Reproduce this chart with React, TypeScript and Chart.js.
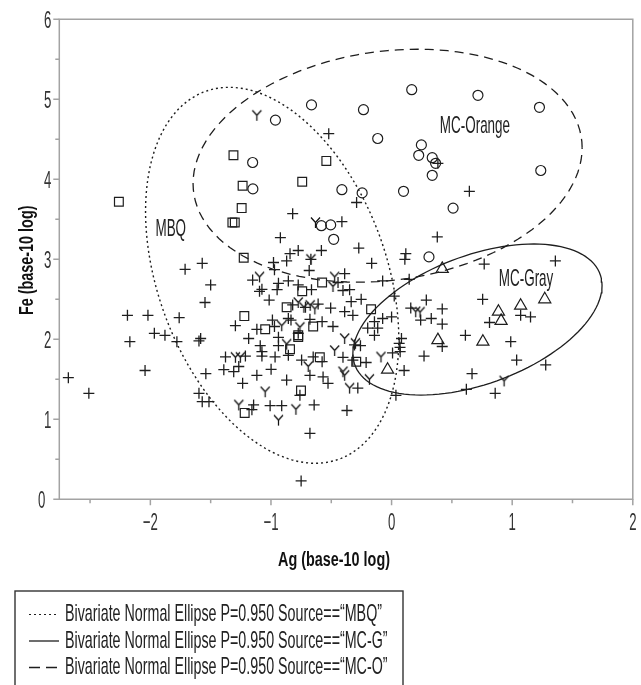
import { useEffect, useRef } from 'react';
import { Chart, registerables } from 'chart.js';

Chart.register(...registerables);

// ---------- axes ----------
const X_MIN = -2.755;
const X_MAX = 2;
const Y_MIN = 0;
const Y_MAX = 6;
const xTickValues = [-2, -1, 0, 1, 2];
const xTickLabels = ['−2', '−1', '0', '1', '2'];
const xMinorValues = [-2.5, -1.5, -0.5, 0.5, 1.5];
const yTickValues = [0, 1, 2, 3, 4, 5, 6];
const yTickLabels = ['0', '1', '2', '3', '4', '5', '6'];
const yMinorValues = [0.5, 1.5, 2.5, 3.5, 4.5, 5.5];
const xTitle = 'Ag (base-10 log)';
const yTitle = 'Fe (base-10 log)';

// ---------- markers ----------
const squarePoints: [number, number][] = [
  [-2.261, 3.72], [-1.311, 4.3], [-0.541, 4.23], [-1.235, 3.92], [-0.741, 3.97], [-1.243, 3.64],
  [-1.32, 3.46], [-1.3, 3.46], [-1.226, 3.02], [-0.576, 2.71], [-0.741, 2.6], [-0.87, 2.4],
  [-0.17, 2.375], [-1.221, 2.29], [-1.048, 2.125], [-0.65, 2.16], [-0.774, 2.05], [-0.774, 2.03],
  [-0.842, 1.875], [-0.595, 1.775], [-0.293, 1.72], [-0.751, 1.36], [-1.218, 1.08],
];

const circlePoints: [number, number][] = [
  [-0.963, 4.74], [-0.664, 4.93], [-0.233, 4.87], [0.167, 5.12], [0.716, 5.05], [1.226, 4.9],
  [-0.115, 4.51], [0.247, 4.43], [0.225, 4.3], [0.337, 4.27], [0.365, 4.2], [0.337, 4.05],
  [1.237, 4.11], [-1.152, 4.21], [-1.15, 3.88], [-0.412, 3.87], [-0.244, 3.83], [0.099, 3.85],
  [0.51, 3.64], [-0.582, 3.42], [-0.505, 3.43], [-0.48, 3.25], [0.31, 3.03],
];

const trianglePoints: [number, number][] = [
  [0.42, 2.88], [1.27, 2.5], [1.07, 2.42], [0.886, 2.345], [0.908, 2.23], [0.384, 1.99],
  [0.757, 1.97], [-0.033, 1.62],
];

const yMarkPoints: [number, number][] = [
  [-1.117, 4.8], [-0.631, 3.46], [-0.669, 3.0], [-1.095, 2.78], [-0.472, 2.78], [-0.486, 2.66],
  [-0.774, 2.46], [-0.727, 2.4], [-0.675, 2.425], [-0.636, 2.38], [-0.911, 2.17], [-0.76, 2.15],
  [-0.389, 2.01], [-0.3, 1.95], [-0.87, 1.94], [-1.295, 1.775], [-1.254, 1.775], [-0.472, 1.86],
  [-0.088, 1.78], [-0.691, 1.66], [-0.403, 1.595], [-0.389, 1.55], [-0.348, 1.39], [-0.184, 1.5],
  [-1.048, 1.345], [-1.267, 1.18], [-0.793, 1.125], [-0.938, 0.99], [0.236, 2.34], [0.2, 2.345],
  [0.933, 1.48],
];

const plusPoints: [number, number][] = [
  [-0.521, 4.57], [-0.29, 3.71], [-0.82, 3.57], [-0.412, 3.47], [-0.922, 3.27], [0.384, 4.2],
  [0.645, 3.85], [0.379, 3.28],
  [0.768, 2.94], [1.358, 2.98], [0.288, 2.49], [0.755, 2.5], [0.42, 2.38], [0.241, 2.24],
  [0.329, 2.26], [0.42, 2.19], [1.07, 2.3], [1.152, 2.28], [0.812, 2.21], [0.42, 1.91],
  [0.612, 2.05], [0.988, 1.97], [0.269, 1.79], [1.037, 1.74], [1.278, 1.68], [0.667, 1.57],
  [0.62, 1.375], [0.859, 1.325],
  [-0.272, 3.14], [0.118, 3.07], [0.11, 3.0], [-0.774, 3.11], [-0.842, 3.07], [-0.582, 3.11],
  [-0.87, 2.98], [-0.669, 3.0], [-1.57, 2.95], [-0.165, 2.95], [-0.979, 2.96], [-0.971, 2.87],
  [-0.683, 2.86], [-1.5, 2.68], [-1.152, 2.74], [-1.075, 2.625], [-1.095, 2.6], [-0.938, 2.7],
  [-0.949, 2.62], [-0.856, 2.73], [-0.774, 2.68], [-0.389, 2.82], [-0.444, 2.71], [-0.074, 2.73],
  [0.146, 2.75], [-0.664, 2.62], [-0.403, 2.61], [-0.348, 2.62], [-1.547, 2.46], [-1.015, 2.49],
  [-0.252, 2.5], [-0.335, 2.47], [-0.82, 2.43], [-0.714, 2.4], [-0.609, 2.44], [-0.505, 2.39],
  [-0.389, 2.345], [-0.321, 2.3], [-1.295, 2.17], [-1.117, 2.125], [-0.988, 2.24], [-0.971, 2.16],
  [-0.856, 2.26], [-0.834, 2.24], [-0.677, 2.25], [-0.576, 2.22], [-0.486, 2.16], [-0.142, 2.22],
  [-0.074, 2.26], [0.0, 2.28], [-0.115, 2.14], [-0.198, 2.14], [-1.583, 2.01], [-1.185, 2.01],
  [-0.938, 2.025], [-0.774, 2.075], [-0.142, 2.05], [0.082, 2.01], [0.063, 1.95], [0.07, 1.9],
  [-0.307, 1.93], [-0.258, 1.92], [-1.089, 1.92], [-0.938, 1.92], [-1.075, 1.845], [-1.377, 1.78],
  [-1.212, 1.79], [-1.075, 1.79], [-0.966, 1.78], [-0.856, 1.8], [-0.746, 1.74], [-0.65, 1.78],
  [-0.576, 1.72], [-0.403, 1.775], [-0.321, 1.74], [-0.211, 1.71], [0.008, 1.83], [0.071, 1.845],
  [0.159, 2.39], [0.022, 2.54], [0.104, 1.61], [-1.54, 1.57], [-1.391, 1.62], [-1.309, 1.595],
  [-1.267, 1.66], [-1.117, 1.55], [-0.999, 1.625], [-0.87, 1.49], [-0.677, 1.55], [-0.568, 1.53],
  [-0.527, 1.45], [-0.28, 1.39], [-1.235, 1.45], [-1.597, 1.325], [-1.514, 1.22], [-1.57, 1.22],
  [-0.76, 1.3], [-1.144, 1.18], [-1.158, 1.12], [-1.007, 1.17], [-0.911, 1.17], [-0.642, 1.18],
  [-0.37, 1.11], [-0.677, 0.825], [0.036, 1.3], [-0.75, 0.23],
  [-2.68, 1.52], [-2.51, 1.325], [-2.19, 2.3], [-2.02, 2.3], [-2.17, 1.97], [-1.967, 2.075],
  [-1.879, 2.05], [-1.78, 1.97], [-1.761, 2.27], [-2.044, 1.61], [-1.712, 2.875], [-1.597, 1.98],
];

// ---------- ellipses (centre, half extents, correlation) ----------
const ellipseSources = ['MBQ', 'MC-G', 'MC-O'];
const ellipseCenterX = [-0.99, 0.712, -0.033];
const ellipseCenterY = [2.8, 2.247, 4.17];
const ellipseHalfWidth = [1.05, 1.033, 1.613];
const ellipseHalfHeight = [2.35, 0.944, 1.456];
const ellipseCorr = [-0.34, 0.45, 0.153];

// ---------- in-plot labels ----------
const groupLabels = ['MBQ', 'MC-Orange', 'MC-Gray'];
const groupLabelX = [-1.831, 0.691, 1.115];
const groupLabelY = [3.4, 4.68, 2.77];

const legendTexts = ellipseSources.map(
  (s) => `Bivariate Normal Ellipse P=0.950 Source==\u201C${s}\u201D`
);

const INK = '#1e1e1e';
const AXIS = '#a3a3a3';
const FONT = "'Liberation Sans', Arial, sans-serif";
const DASHES = [[2, 3], [], [9, 6]];

function ellipseOutline(i: number) {
  const pts: { x: number; y: number }[] = [];
  const r = ellipseCorr[i];
  const k = Math.sqrt(1 - r * r);
  for (let d = 0; d <= 360; d += 3) {
    const t = (d * Math.PI) / 180;
    pts.push({
      x: ellipseCenterX[i] + ellipseHalfWidth[i] * Math.cos(t),
      y: ellipseCenterY[i] + ellipseHalfHeight[i] * (r * Math.cos(t) + k * Math.sin(t)),
    });
  }
  return pts;
}

function makeYMarker() {
  const c = document.createElement('canvas');
  c.width = 13;
  c.height = 13;
  const g = c.getContext('2d')!;
  g.strokeStyle = '#111';
  g.lineWidth = 1.25;
  g.lineCap = 'butt';
  g.beginPath();
  g.moveTo(2, 1.5);
  g.lineTo(6.5, 6.5);
  g.lineTo(11, 1.5);
  g.moveTo(6.5, 6.5);
  g.lineTo(6.5, 12);
  g.stroke();
  return c;
}

function narrowText(
  ctx: CanvasRenderingContext2D,
  text: string,
  x: number,
  cy: number,
  size: number,
  weight: string,
  sx: number,
  align: CanvasTextAlign,
  color: string
) {
  ctx.save();
  ctx.font = `${weight} ${size}px ${FONT}`;
  ctx.fillStyle = color;
  ctx.textBaseline = 'alphabetic';
  ctx.textAlign = align;
  ctx.translate(x, cy + size * 0.358);
  ctx.scale(sx, 1);
  ctx.fillText(text, 0, 0);
  ctx.restore();
}

function fitScale(ctx: CanvasRenderingContext2D, text: string, size: number, weight: string, target: number) {
  ctx.save();
  ctx.font = `${weight} ${size}px ${FONT}`;
  const w = ctx.measureText(text).width;
  ctx.restore();
  return target / w;
}

const decorPlugin = {
  id: 'decor',
  afterDraw(chart: any) {
    const ctx: CanvasRenderingContext2D = chart.ctx;
    const xs = chart.scales.x;
    const ys = chart.scales.y;
    const { left, right, top, bottom } = chart.chartArea;

    // frame and axes
    ctx.save();
    ctx.strokeStyle = AXIS;
    ctx.lineWidth = 1.5;
    ctx.beginPath();
    ctx.rect(left, top, right - left, bottom - top);
    ctx.stroke();
    ctx.beginPath();
    xTickValues.forEach((v) => {
      const px = xs.getPixelForValue(v);
      ctx.moveTo(px, bottom);
      ctx.lineTo(px, bottom + 6);
    });
    xMinorValues.forEach((v) => {
      const px = xs.getPixelForValue(v);
      ctx.moveTo(px, bottom);
      ctx.lineTo(px, bottom + 4);
    });
    yTickValues.forEach((v) => {
      const py = ys.getPixelForValue(v);
      ctx.moveTo(left, py);
      ctx.lineTo(left - 6, py);
    });
    yMinorValues.forEach((v) => {
      const py = ys.getPixelForValue(v);
      ctx.moveTo(left, py);
      ctx.lineTo(left - 4, py);
    });
    ctx.stroke();
    ctx.restore();

    // tick labels
    const tickSize = 24;
    const tickSx = 0.55;
    xTickValues.forEach((v, i) => {
      narrowText(ctx, xTickLabels[i], xs.getPixelForValue(v), bottom + 22, tickSize, '300', tickSx, 'center', '#333');
    });
    yTickValues.forEach((v, i) => {
      const rx = v === 0 ? left - 14 : left - 8;
      narrowText(ctx, yTickLabels[i], rx, ys.getPixelForValue(v), tickSize, '300', tickSx, 'right', '#333');
    });

    // axis titles
    const tsx = fitScale(ctx, xTitle, 20, 'bold', 112);
    narrowText(ctx, xTitle, 334, 558.5, 20, 'bold', tsx, 'center', '#111');
    ctx.save();
    ctx.translate(26, (top + bottom) / 2 + 1);
    ctx.rotate(-Math.PI / 2);
    narrowText(ctx, yTitle, 0, 0, 20, 'bold', tsx, 'center', '#111');
    ctx.restore();

    // group labels
    groupLabels.forEach((t, i) => {
      narrowText(ctx, t, xs.getPixelForValue(groupLabelX[i]), ys.getPixelForValue(groupLabelY[i]), 24, '300', 0.56, 'center', '#222');
    });

    // legend box
    const bx = 15;
    const by = 591;
    const bw = 388;
    ctx.save();
    ctx.strokeStyle = '#333';
    ctx.lineWidth = 1.4;
    ctx.strokeRect(bx, by, bw, 110);
    ctx.restore();
    const lsx = fitScale(ctx, legendTexts[0], 24, '300', 317);
    const rowY = [612.5, 639, 665.5];
    legendTexts.forEach((t, i) => {
      ctx.save();
      ctx.strokeStyle = INK;
      ctx.lineWidth = i === 0 ? 1.2 : 1.3;
      ctx.setLineDash(i === 2 ? [11, 6] : DASHES[i]);
      ctx.beginPath();
      ctx.moveTo(29, rowY[i] + 2);
      ctx.lineTo(59, rowY[i] + 2);
      ctx.stroke();
      ctx.restore();
      narrowText(ctx, t, 65, rowY[i], 24, '300', lsx, 'left', '#222');
    });
  },
};

export default function App() {
  const ref = useRef<HTMLCanvasElement | null>(null);

  useEffect(() => {
    if (!ref.current) return;
    const yMarker = makeYMarker();
    const toXY = (a: [number, number][]) => a.map(([x, y]) => ({ x, y }));
    const markerBase = {
      borderColor: INK,
      backgroundColor: 'rgba(0,0,0,0)',
      borderWidth: 1.2,
      pointHoverRadius: 0,
    };
    const chart = new Chart(ref.current, {
      type: 'scatter',
      data: {
        datasets: [
          ...ellipseSources.map((s, i) => ({
            label: s,
            data: ellipseOutline(i),
            showLine: true,
            pointRadius: 0,
            borderColor: INK,
            borderWidth: i === 0 ? 1.4 : 1.3,
            borderDash: DASHES[i],
            fill: false,
            tension: 0,
          })),
          { label: 'plus', data: toXY(plusPoints), pointStyle: 'cross', pointRadius: 5.5, ...markerBase, borderWidth: 1.3 },
          { label: 'Y', data: toXY(yMarkPoints), pointStyle: yMarker, pointRadius: 7, ...markerBase },
          { label: 'square', data: toXY(squarePoints), pointStyle: 'rect', pointRadius: 6.2, ...markerBase },
          { label: 'circle', data: toXY(circlePoints), pointStyle: 'circle', pointRadius: 5, ...markerBase },
          { label: 'triangle', data: toXY(trianglePoints), pointStyle: 'triangle', pointRadius: 7, ...markerBase },
        ] as any,
      },
      options: {
        animation: false,
        responsive: false,
        devicePixelRatio: 1,
        events: [],
        layout: { padding: { left: 59.3, top: 19.3, right: 4.3, bottom: 185.7 } },
        scales: {
          x: { type: 'linear', min: X_MIN, max: X_MAX, display: false },
          y: { type: 'linear', min: Y_MIN, max: Y_MAX, display: false },
        },
        plugins: { legend: { display: false }, tooltip: { enabled: false } },
      },
      plugins: [decorPlugin],
    });
    return () => chart.destroy();
  }, []);

  return (
    <div style={{ position: 'fixed', left: 0, top: 0, width: 641, height: 685, background: '#fff' }}>
      <canvas ref={ref} width={641} height={685} style={{ display: 'block' }} />
    </div>
  );
}
